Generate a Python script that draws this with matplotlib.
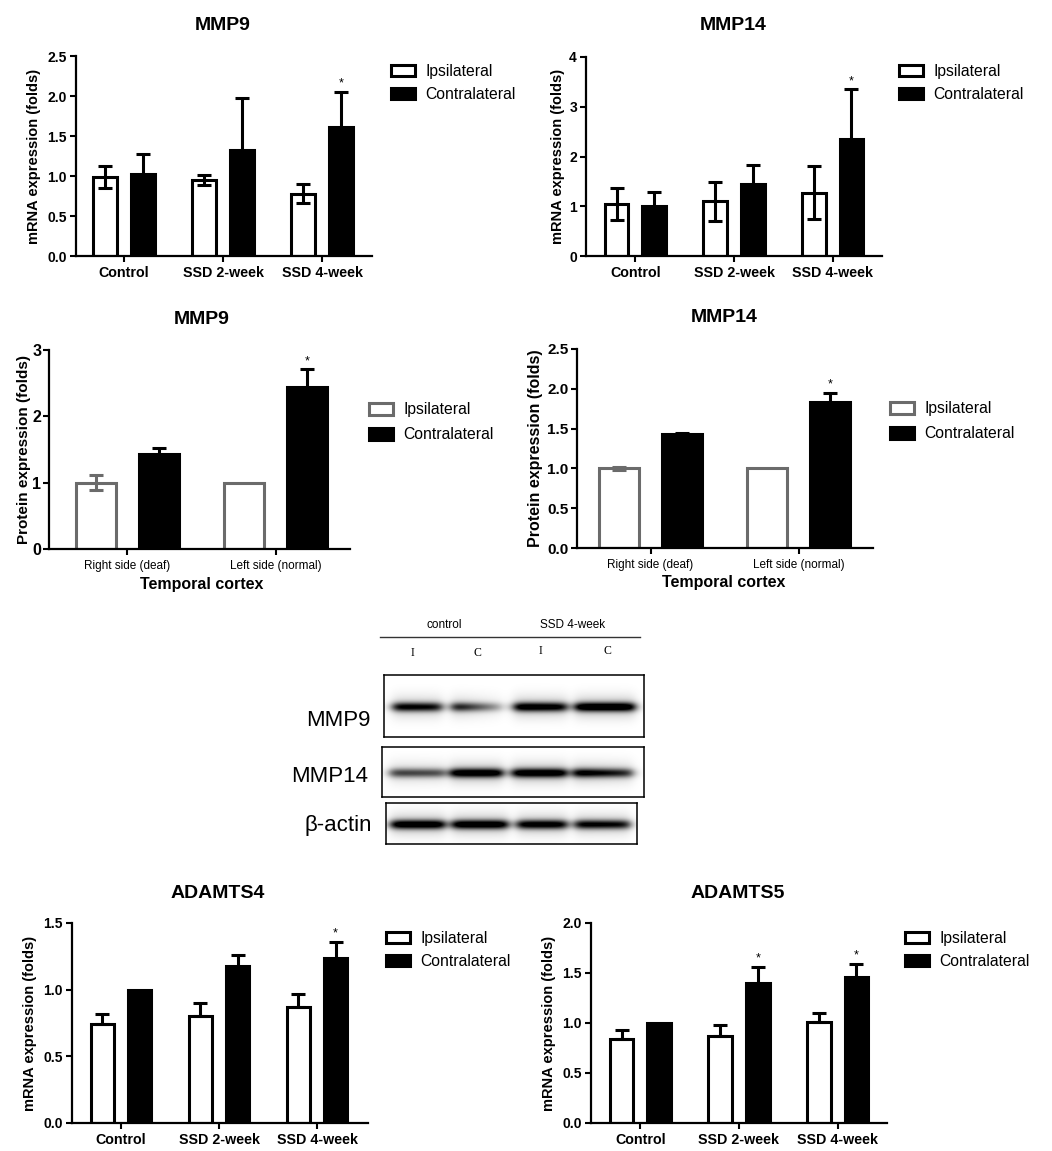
import numpy as np
import matplotlib
matplotlib.use("Agg")
import matplotlib.pyplot as plt
from matplotlib.patches import Patch
from matplotlib.lines import Line2D

plt.rcParams['font.family'] = ['Liberation Sans', 'DejaVu Sans']

W, H = 1052, 1151

# ── data ─────────────────────────────────────────────────────────────
groups_mrna = ["Control", "SSD 2-week", "SSD 4-week"]
groups_prot = ["Right side (deaf)", "Left side (normal)"]
series = ["Ipsilateral", "Contralateral"]

mmp9_mrna_ipsi       = [0.99, 0.95, 0.78]
mmp9_mrna_ipsi_err   = [0.14, 0.06, 0.12]
mmp9_mrna_contra     = [1.03, 1.33, 1.61]
mmp9_mrna_contra_err = [0.25, 0.64, 0.44]
mmp9_mrna_sig        = [False, False, True]

mmp14_mrna_ipsi       = [1.04, 1.10, 1.27]
mmp14_mrna_ipsi_err   = [0.32, 0.39, 0.53]
mmp14_mrna_contra     = [1.00, 1.44, 2.36]
mmp14_mrna_contra_err = [0.28, 0.38, 0.99]
mmp14_mrna_sig        = [False, False, True]

mmp9_prot_ipsi       = [1.00, 1.00]
mmp9_prot_ipsi_err   = [0.11, 0.0]
mmp9_prot_contra     = [1.43, 2.44]
mmp9_prot_contra_err = [0.09, 0.27]
mmp9_prot_sig        = [False, True]

mmp14_prot_ipsi       = [1.00, 1.00]
mmp14_prot_ipsi_err   = [0.02, 0.0]
mmp14_prot_contra     = [1.43, 1.83]
mmp14_prot_contra_err = [0.02, 0.12]
mmp14_prot_sig        = [False, True]

adamts4_ipsi       = [0.74, 0.80, 0.87]
adamts4_ipsi_err   = [0.08, 0.10, 0.10]
adamts4_contra     = [1.00, 1.18, 1.24]
adamts4_contra_err = [0.0, 0.08, 0.12]
adamts4_sig        = [False, False, True]

adamts5_ipsi       = [0.84, 0.87, 1.01]
adamts5_ipsi_err   = [0.09, 0.11, 0.09]
adamts5_contra     = [1.00, 1.40, 1.46]
adamts5_contra_err = [0.0, 0.16, 0.13]
adamts5_sig        = [False, True, True]

# western blot band intensities (lanes: control I, control C, SSD I, SSD C)
blot_lanes  = ["I", "C", "I", "C"]
blot_mmp9   = [0.85, 0.80, 0.95, 1.00]
blot_mmp14  = [0.60, 0.95, 0.95, 0.92]
blot_actin  = [0.95, 0.95, 0.88, 0.85]
mmp9_fade   = [0.1, 0.7, 0.1, 0.0]    # band fading toward right end
mmp14_fade  = [0.1, 0.0, 0.0, 0.3]
actin_fade  = [0.0, 0.0, 0.0, 0.1]

fig = plt.figure(figsize=(W / 100, H / 100), dpi=100)
fig.patch.set_facecolor("white")


def px_rect(x0, y0, x1, y1):
    return [x0 / W, 1 - y1 / H, (x1 - x0) / W, (y1 - y0) / H]


def fig_text(x, y, s, **kw):
    fig.text(x / W, 1 - y / H, s, **kw)


def bar_panel(rect, xlim, ylim, yticks, ylabels, groups, ipsi, ipsi_err,
              contra, contra_err, sig, both, width, offset, ipsi_edge,
              ylabel, ylab_dx, tick_fs, ylab_fs, xt_fs, xt_weight, xt_pad,
              yt_pad, legend_xy, leg_hh, leg_sp):
    ax = fig.add_axes(px_rect(*rect))
    x = np.arange(len(groups))
    ipsi = np.array(ipsi); contra = np.array(contra)
    ie = np.array(ipsi_err); ce = np.array(contra_err)
    ax.bar(x - offset, ipsi, width, color="white", edgecolor=ipsi_edge,
           linewidth=2.2, zorder=2)
    ax.bar(x + offset, contra, width, color="black", edgecolor="black",
           linewidth=2.2, zorder=2)
    m = ie > 0
    lo = ie[m] if both else np.zeros(m.sum())
    ax.errorbar((x - offset)[m], ipsi[m], yerr=[lo, ie[m]], fmt="none",
                ecolor=ipsi_edge, elinewidth=2.2, capsize=5, capthick=2.2,
                zorder=3)
    m = ce > 0
    ax.errorbar((x + offset)[m], contra[m], yerr=[ce[m], ce[m]], fmt="none",
                ecolor="black", elinewidth=2.2, capsize=5, capthick=2.2,
                zorder=3)
    for i, s in enumerate(sig):
        if s:
            ax.annotate("*", (x[i] + offset, contra[i] + ce[i]),
                        xytext=(0, 1.5), textcoords="offset points",
                        ha="center", va="bottom", fontsize=9)
    ax.set_xlim(xlim)
    ax.set_ylim(ylim)
    ax.set_yticks(yticks)
    ax.set_yticklabels(ylabels, fontsize=tick_fs, fontweight="bold")
    ax.set_xticks(x)
    ax.set_xticklabels(groups, fontsize=xt_fs, fontweight=xt_weight)
    ax.tick_params(axis="both", length=4, width=1.5, direction="out")
    ax.tick_params(axis="x", pad=xt_pad)
    ax.tick_params(axis="y", pad=yt_pad)
    for sp in ["top", "right"]:
        ax.spines[sp].set_visible(False)
    for sp in ["left", "bottom"]:
        ax.spines[sp].set_linewidth(1.6)
    ax.set_ylabel(ylabel, fontsize=ylab_fs, fontweight="bold")
    ax.yaxis.set_label_coords(-ylab_dx / (rect[2] - rect[0]), 0.5)
    ax.patch.set_alpha(0)
    handles = [Patch(facecolor="white", edgecolor=ipsi_edge, linewidth=2.2),
               Patch(facecolor="black", edgecolor="black", linewidth=2.2)]
    fig.legend(handles, series, loc="upper left",
               bbox_to_anchor=(legend_xy[0] / W, 1 - legend_xy[1] / H),
               frameon=False, fontsize=11.3, handlelength=1.5,
               handleheight=leg_hh, handletextpad=0.7, labelspacing=leg_sp,
               borderpad=0, borderaxespad=0)
    return ax


# ── MMP9 mRNA ─────────────────────────────────────────────────────────
bar_panel((76, 56, 372, 256), (-0.485, 2.505), (0, 2.5),
          [0, 0.5, 1, 1.5, 2, 2.5], ["0.0", "0.5", "1.0", "1.5", "2.0", "2.5"],
          groups_mrna, mmp9_mrna_ipsi, mmp9_mrna_ipsi_err, mmp9_mrna_contra,
          mmp9_mrna_contra_err, mmp9_mrna_sig, True, 0.24, 0.19, "black",
          "mRNA expression (folds)", 35, 10, 10.5, 10.3, "bold", 3, 2.5,
          (391, 64), 0.75, 0.5)
fig_text(223, 25, "MMP9", ha="center", va="center", fontsize=14, fontweight="bold")

# ── MMP14 mRNA ────────────────────────────────────────────────────────
bar_panel((586, 57, 882, 256), (-0.5, 2.5), (0, 4),
          [0, 1, 2, 3, 4], ["0", "1", "2", "3", "4"],
          groups_mrna, mmp14_mrna_ipsi, mmp14_mrna_ipsi_err, mmp14_mrna_contra,
          mmp14_mrna_contra_err, mmp14_mrna_sig, True, 0.24, 0.19, "black",
          "mRNA expression (folds)", 21, 10, 10.5, 10.3, "bold", 3, 2.5,
          (899, 64), 0.75, 0.5)
fig_text(733, 25, "MMP14", ha="center", va="center", fontsize=14, fontweight="bold")

# ── MMP9 protein ──────────────────────────────────────────────────────
bar_panel((49, 350, 350, 549), (-0.53, 1.503), (0, 3),
          [0, 1, 2, 3], ["0", "1", "2", "3"],
          groups_prot, mmp9_prot_ipsi, mmp9_prot_ipsi_err, mmp9_prot_contra,
          mmp9_prot_contra_err, mmp9_prot_sig, True, 0.265, 0.213, "#6b6b6b",
          "Protein expression (folds)", 18, 11.5, 11, 8.5, "normal", 4, 1.5,
          (369, 402), 0.8, 0.65)
fig_text(202, 319, "MMP9", ha="center", va="center", fontsize=14, fontweight="bold")
fig_text(202, 584, "Temporal cortex", ha="center", va="center", fontsize=11.5, fontweight="bold")

# ── MMP14 protein ─────────────────────────────────────────────────────
bar_panel((577, 349, 873, 548), (-0.497, 1.503), (0, 2.5),
          [0, 0.5, 1, 1.5, 2, 2.5], ["0.0", "0.5", "1.0", "1.5", "2.0", "2.5"],
          groups_prot, mmp14_prot_ipsi, mmp14_prot_ipsi_err, mmp14_prot_contra,
          mmp14_prot_contra_err, mmp14_prot_sig, True, 0.265, 0.213, "#6b6b6b",
          "Protein expression (folds)", 34, 11, 11.5, 8.5, "normal", 4, 2,
          (890, 401), 0.8, 0.65)
fig_text(724, 318, "MMP14", ha="center", va="center", fontsize=14, fontweight="bold")
fig_text(724, 583, "Temporal cortex", ha="center", va="center", fontsize=11.5, fontweight="bold")

# ── ADAMTS4 ───────────────────────────────────────────────────────────
bar_panel((72, 923, 368, 1123), (-0.5, 2.52), (0, 1.5),
          [0, 0.5, 1, 1.5], ["0.0", "0.5", "1.0", "1.5"],
          groups_mrna, adamts4_ipsi, adamts4_ipsi_err, adamts4_contra,
          adamts4_contra_err, adamts4_sig, False, 0.24, 0.19, "black",
          "mRNA expression (folds)", 35, 10, 10.5, 10.3, "bold", 3, 2.5,
          (386, 931), 0.75, 0.5)
fig_text(218, 893, "ADAMTS4", ha="center", va="center", fontsize=14, fontweight="bold")

# ── ADAMTS5 ───────────────────────────────────────────────────────────
bar_panel((591, 923, 887, 1123), (-0.5, 2.5), (0, 2.0),
          [0, 0.5, 1, 1.5, 2], ["0.0", "0.5", "1.0", "1.5", "2.0"],
          groups_mrna, adamts5_ipsi, adamts5_ipsi_err, adamts5_contra,
          adamts5_contra_err, adamts5_sig, False, 0.24, 0.19, "black",
          "mRNA expression (folds)", 35, 10, 10.5, 10.3, "bold", 3, 2.5,
          (905, 931), 0.75, 0.5)
fig_text(738, 893, "ADAMTS5", ha="center", va="center", fontsize=14, fontweight="bold")

# ── Western blot ──────────────────────────────────────────────────────
def blot(box, lanes_px, intens, fade, label, label_y):
    x0, y0, x1, y1 = box
    ax = fig.add_axes(px_rect(x0, y0, x1, y1))
    xs = np.arange(x0, x1) + 0.5
    ys = np.arange(y0, y1) + 0.5
    X, Y = np.meshgrid(xs, ys)
    yc = (y0 + y1) / 2 + 1
    dark = np.zeros_like(X)
    for (xa, xb), a, f in zip(lanes_px, intens, fade):
        hx = 1 / (1 + np.exp(-(X - xa) / 3)) / (1 + np.exp((X - xb) / 3))
        taper = 1 - f * np.clip((X - xa) / (xb - xa), 0, 1)
        vy = np.exp(-0.5 * ((Y - yc) / 3.2) ** 2) + 0.22 * np.exp(-0.5 * ((Y - yc) / 8) ** 2)
        dark += 1.05 * a * hx * taper * vy
    img = 1 - np.clip(dark, 0, 1)
    ax.imshow(img, cmap="gray", vmin=0, vmax=1, extent=(x0, x1, y1, y0),
              aspect="auto", interpolation="bilinear")
    ax.set_xticks([]); ax.set_yticks([])
    for sp in ax.spines.values():
        sp.set_linewidth(1.1)
    fig_text(x0 - 14, label_y, label, ha="right", va="center", fontsize=16)


blot((384, 675, 644, 737), [(393, 442), (452, 503), (514, 567), (575, 635)],
     blot_mmp9, mmp9_fade, "MMP9", 720)
blot((382, 747, 644, 797), [(390, 445), (450, 503), (512, 567), (573, 633)],
     blot_mmp14, mmp14_fade, "MMP14", 777)
blot((386, 803, 637, 844), [(391, 445), (452, 508), (517, 567), (575, 630)],
     blot_actin, actin_fade, "β-actin", 825)

fig.add_artist(Line2D([380 / W, 640 / W], [1 - 637 / H, 1 - 637 / H],
                      transform=fig.transFigure, color="#333333", linewidth=1))
fig_text(444, 625, "control", ha="center", va="center", fontsize=8.5)
fig_text(573, 625, "SSD 4-week", ha="center", va="center", fontsize=8.5)
for lx, ly, lab in zip([412, 477, 540, 607], [653, 653, 651, 651], blot_lanes):
    fig_text(lx, ly, lab, ha="center", va="center", fontsize=8.5,
             family=["Liberation Serif", "DejaVu Serif"])

fig.savefig("out.png", dpi=100, facecolor="white")
